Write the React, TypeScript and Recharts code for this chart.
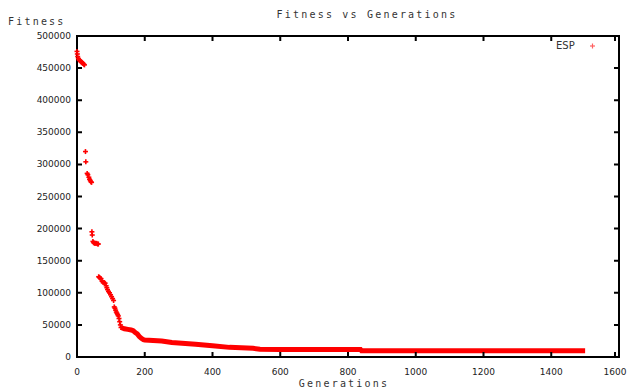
import { ComposedChart, Scatter, Line, XAxis, YAxis, ReferenceArea } from 'recharts';

// early generations: separate clusters of points
const earlyGens = [0, 1, 2, 4, 6, 8, 10, 12, 14, 16, 18, 20, 22, 25, 26, 30, 32, 35, 37, 39, 41, 43, 44, 45, 47, 49, 52, 55, 58, 61, 63, 64, 66, 68, 71, 74, 77, 80, 83, 86, 88, 90, 93, 96, 99, 102, 105, 108, 110, 112, 114, 116, 118, 120, 122, 124, 126, 128, 130];
const earlyFitness = [476000, 472000, 468000, 465000, 463000, 462000, 461000, 460000, 459000, 458000, 457000, 456000, 455000, 320000, 304000, 286000, 284000, 280000, 277000, 275000, 273000, 272000, 195000, 190000, 180000, 178000, 177000, 177000, 177000, 176000, 176000, 125000, 124000, 123000, 122000, 118000, 116000, 116000, 115000, 111000, 108000, 105000, 102000, 100000, 97000, 94000, 91000, 88000, 78000, 76000, 73000, 70000, 68000, 66000, 64000, 60000, 55000, 50000, 46000];

// later generations: points so dense they form a band
const lateGens = [130, 140, 150, 160, 166, 172, 178, 184, 190, 196, 200, 250, 280, 350, 400, 450, 520, 540, 600, 700, 800, 837, 840, 1000, 1200, 1400, 1500];
const lateFitness = [46000, 44000, 43000, 42000, 41000, 38000, 36000, 32000, 29000, 27000, 26500, 25000, 22500, 20000, 17500, 15000, 13500, 12000, 11800, 11800, 11800, 11800, 9800, 9800, 9800, 9800, 9800];

const xTicks = [0, 200, 400, 600, 800, 1000, 1200, 1400, 1600];
const yTicks = [0, 50000, 100000, 150000, 200000, 250000, 300000, 350000, 400000, 450000, 500000];

const early = earlyGens.map((g, i) => ({ gen: g, fitness: earlyFitness[i] }));
const late = lateGens.map((g, i) => ({ gen: g, fitness: lateFitness[i] }));

const W = 631;
const H = 389;
const M = { top: 36, right: 12, left: 0, bottom: 0 };
const Y_AXIS_W = 77;
const X_AXIS_H = 32;
const PLOT_TOP = M.top;
const PLOT_RIGHT = W - M.right;

const RED = '#ff0000';
const TEXT = '#222';
const labelStyle: React.CSSProperties = {
	position: 'absolute',
	fontFamily: 'DejaVu Sans Mono',
	fontSize: 10,
	letterSpacing: 2.2,
	color: '#333',
	whiteSpace: 'nowrap',
	lineHeight: '12px',
};

const Plus = (props: any) => {
	const { cx, cy } = props;
	if (cx == null || cy == null) return null;
	return (
		<g stroke={RED} strokeWidth={1.6}>
			<line x1={cx - 2.5} x2={cx + 2.5} y1={cy} y2={cy} />
			<line x1={cx} x2={cx} y1={cy - 2.5} y2={cy + 2.5} />
		</g>
	);
};

// gnuplot style: inward ticks, mirrored on the opposite border
const XTick = (props: any) => {
	const { x, y, payload } = props;
	return (
		<g>
			<path d={`M${x},${y}V${y - 5}M${x},${PLOT_TOP}V${PLOT_TOP + 5}`} stroke='#000' strokeWidth={2} fill='none' />
			<text x={x} y={y + 18} textAnchor='middle' fontFamily='DejaVu Sans' fontSize={9} fill={TEXT}>
				{payload.value}
			</text>
		</g>
	);
};

const YTick = (props: any) => {
	const { x, y, payload } = props;
	return (
		<g>
			<path d={`M${x},${y}H${x + 5}M${PLOT_RIGHT},${y}H${PLOT_RIGHT - 5}`} stroke='#000' strokeWidth={2} fill='none' />
			<text x={x - 6} y={y + 3} textAnchor='end' fontFamily='DejaVu Sans' fontSize={9} fill={TEXT}>
				{payload.value}
			</text>
		</g>
	);
};

export default function App() {
	return (
		<div style={{ position: 'absolute', left: 0, top: 0, width: W, height: H, background: '#fff' }}>
			<div style={{ ...labelStyle, left: 367, top: 9, transform: 'translateX(-50%)' }}>Fitness vs Generations</div>
			<div style={{ ...labelStyle, left: 8, top: 16 }}>Fitness</div>
			<div style={{ ...labelStyle, left: 344, top: 378, transform: 'translateX(-50%)' }}>Generations</div>
			<div style={{ position: 'absolute', left: 556, top: 40, fontFamily: 'DejaVu Sans', fontSize: 10, color: '#333', display: 'flex', alignItems: 'center' }}>
				<span>ESP</span>
				<svg width={16} height={10} style={{ marginLeft: 14 }}>
					<g stroke='#ff6060' strokeWidth={1.2}>
						<line x1={1} x2={6} y1={5} y2={5} />
						<line x1={3.5} x2={3.5} y1={2.5} y2={7.5} />
					</g>
				</svg>
			</div>
			<ComposedChart width={W} height={H} margin={M}>
				<XAxis
					type='number'
					dataKey='gen'
					domain={[0, 1600]}
					ticks={xTicks}
					height={X_AXIS_H}
					tickSize={0}
					tickMargin={0}
					tick={<XTick />}
					tickLine={false}
					axisLine={{ stroke: '#000', strokeWidth: 2 }}
				/>
				<YAxis
					type='number'
					domain={[0, 500000]}
					ticks={yTicks}
					width={Y_AXIS_W}
					tickSize={0}
					tickMargin={0}
					tick={<YTick />}
					tickLine={false}
					axisLine={{ stroke: '#000', strokeWidth: 2 }}
				/>
				<ReferenceArea
					x1={0}
					x2={1600}
					y1={0}
					y2={500000}
					fill='#ffffff'
					fillOpacity={0}
					stroke='#000000'
					strokeWidth={2}
					strokeOpacity={1}
					ifOverflow='visible'
				/>
				<Line
					data={late}
					dataKey='fitness'
					stroke={RED}
					strokeWidth={5}
					dot={false}
					activeDot={false}
					isAnimationActive={false}
				/>
				<Scatter
					name='ESP'
					data={early}
					dataKey='fitness'
					fill={RED}
					shape={<Plus />}
					isAnimationActive={false}
				/>
			</ComposedChart>
		</div>
	);
}
